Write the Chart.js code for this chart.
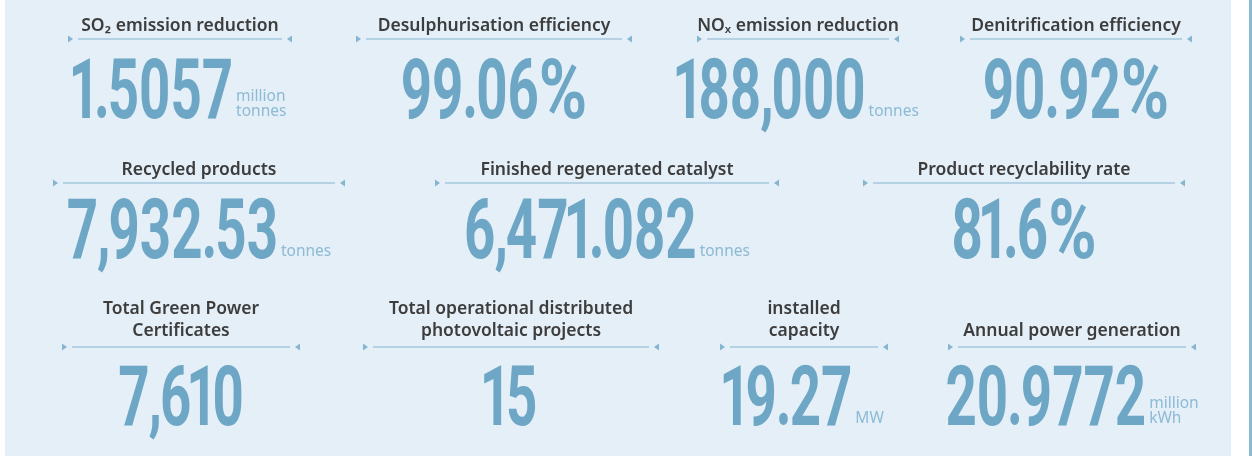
<!DOCTYPE html>
<html lang="en">
<head>
<meta charset="UTF-8"/>
<title>Key figures</title>
<script src="https://cdn.jsdelivr.net/npm/chart.js"></script>
<style>
  html, body { margin:0; padding:0; background:#fff; }
  #wrap { width:1252px; height:456px; }
</style>
</head>
<body>
<div id="wrap"><canvas id="kpiChart" width="1252" height="456"></canvas></div>
<script>
/* ===== data ===== */
const rowSizes = [4, 3, 4];
const titles = [
  ["SO\u2082 emission reduction"], ["Desulphurisation efficiency"], ["NO\u2093 emission reduction"], ["Denitrification efficiency"],
  ["Recycled products"], ["Finished regenerated catalyst"], ["Product recyclability rate"],
  ["Total Green Power", "Certificates"], ["Total operational distributed", "photovoltaic projects"], ["installed", "capacity"], ["Annual power generation"]
];
const values = ["1.5057", "99.06%", "188,000", "90.92%", "7,932.53", "6,471.082", "81.6%", "7,610", "15", "19.27", "20.9772"];
const units = [
  ["million", "tonnes"], [], ["tonnes"], [],
  ["tonnes"], ["tonnes"], [],
  [], [], ["MW"], ["million", "kWh"]
];

/* ===== layout (cell centre / half width of divider, per row) ===== */
const rowLayout = [
  { titleY: 31,  lineY: 39,  numY: 118, cells: [[180,112],[494,138],[798,101],[1076,116]] },
  { titleY: 175, lineY: 183, numY: 258, cells: [[199,146],[607,172],[1024,161]] },
  { titleY: 336, lineY: 347, numY: 425, cells: [[181,119],[511,148],[804,84],[1072,124]] }
];
const NUM_COLOR = '#6ea7c5', UNIT_COLOR = '#8dbad4', TITLE_COLOR = '#3d3d3d', LINE_COLOR = '#86b5cf';
const NUM_FONT = 'bold 84px Roboto', SX = 0.65;

// condensed digits: narrow "1" and punctuation, wider "%"
function glyphs(c, str){
  c.font = NUM_FONT;
  return [...str].map(ch=>{
    const w = c.measureText(ch).width;
    if(ch === '1') return { ch, sx: SX, off: -5, adv: w*SX - 10 };
    if(ch === '.' || ch === ',') return { ch, sx: SX, off: -1, adv: w*SX - 3 };
    if(ch === '%') return { ch, sx: 0.78, off: 0, adv: w*0.78 };
    return { ch, sx: SX, off: 0, adv: w*SX };
  });
}

const kpiPlugin = {
  id: 'kpiTiles',
  beforeDraw(chart){
    const c = chart.ctx;
    c.save();
    c.fillStyle = '#ffffff';
    c.fillRect(0, 0, chart.width, chart.height);
    c.fillStyle = '#e4eff8';
    c.fillRect(5, 0, 1226, chart.height);
    c.fillStyle = '#8dbad3';
    c.fillRect(1249, 0, 3, chart.height);
    c.restore();
  },
  afterDraw(chart){
    const c = chart.ctx;
    let idx = 0;
    rowSizes.forEach((n, r)=>{
      const L = rowLayout[r];
      for(let k=0;k<n;k++, idx++){
        const [cx, half] = L.cells[k];
        c.save();
        // title
        c.fillStyle = TITLE_COLOR;
        c.font = '600 17.5px "Noto Sans"';
        c.textAlign = 'center';
        c.textBaseline = 'alphabetic';
        const tl = titles[idx];
        tl.forEach((t,i)=> c.fillText(t, cx, L.titleY - (tl.length-1-i)*22));
        // divider with inward triangles
        c.strokeStyle = LINE_COLOR; c.fillStyle = LINE_COLOR; c.lineWidth = 1.2;
        c.beginPath(); c.moveTo(cx-half+10, L.lineY); c.lineTo(cx+half-10, L.lineY); c.stroke();
        c.beginPath(); c.moveTo(cx-half, L.lineY-3.5); c.lineTo(cx-half+5, L.lineY); c.lineTo(cx-half, L.lineY+3.5); c.fill();
        c.beginPath(); c.moveTo(cx+half, L.lineY-3.5); c.lineTo(cx+half-5, L.lineY); c.lineTo(cx+half, L.lineY+3.5); c.fill();
        // value + unit
        c.textAlign = 'left';
        const gs = glyphs(c, values[idx]);
        const numW = gs.reduce((a,g)=>a+g.adv, 0);
        c.font = '15.5px "Noto Sans"';
        const u = units[idx];
        const unitW = u.length ? Math.max(...u.map(s=>c.measureText(s).width)) + 3 : 0;
        const x0 = cx - (numW + unitW)/2;
        c.fillStyle = NUM_COLOR;
        c.font = NUM_FONT;
        let x = x0;
        gs.forEach(g=>{
          c.save();
          c.translate(x + g.off, L.numY);
          c.scale(g.sx, 1);
          c.fillText(g.ch, 0, 0);
          c.restore();
          x += g.adv;
        });
        c.fillStyle = UNIT_COLOR;
        c.font = '15.5px "Noto Sans"';
        u.forEach((s,i)=> c.fillText(s, x0 + numW + 3, L.numY - 2 - (u.length-1-i)*15));
        c.restore();
      }
    });
  }
};

new Chart(document.getElementById('kpiChart').getContext('2d'), {
  type: 'bar',
  data: { labels: values, datasets: [] },
  options: {
    responsive: false,
    animation: false,
    layout: { padding: 0 },
    scales: { x: { display:false }, y: { display:false } },
    plugins: { legend: { display:false }, tooltip: { enabled:false } }
  },
  plugins: [kpiPlugin]
});
</script>
</body>
</html>
